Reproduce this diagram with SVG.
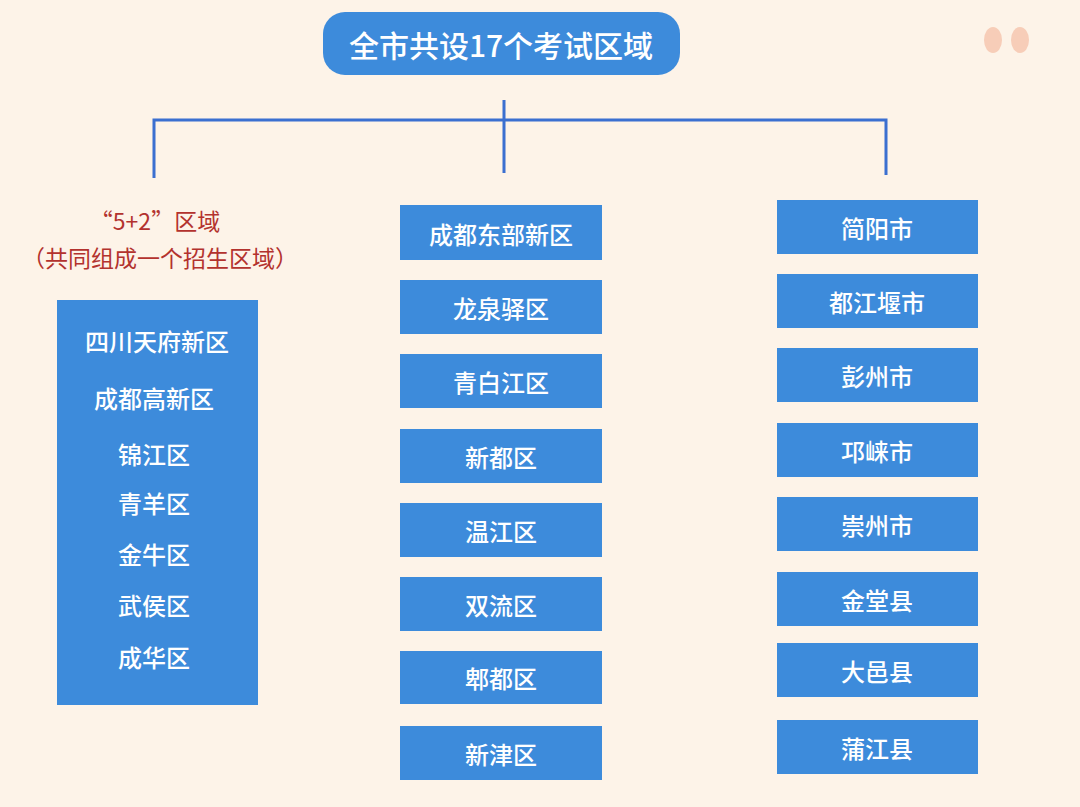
<svg xmlns="http://www.w3.org/2000/svg" width="1080" height="807" viewBox="0 0 1080 807">
<style>
.b{fill:#3d8bdb}
.t{fill:#fff;font-family:"Noto Sans CJK SC",sans-serif;font-size:24px;font-weight:500;text-anchor:middle;dominant-baseline:central}
.r{fill:#b3322e;font-family:"Noto Sans CJK SC",sans-serif;font-size:23px;text-anchor:middle;dominant-baseline:central}
.c{stroke:#3b6fd0;stroke-width:3;fill:none}
</style>
<rect width="1080" height="807" fill="#fdf3e8"/>
<ellipse cx="993" cy="40" rx="9" ry="13" fill="#f7cdb8"/>
<ellipse cx="1020" cy="40" rx="9" ry="13" fill="#f7cdb8"/>
<g id="title"><rect x="323" y="12" width="357" height="63" rx="22" class="b"/><text x="501" y="44" class="t" style="font-size:30px">全市共设17个考试区域</text></g>
<g id="connectors">
<path class="c" d="M504 100V173M154 178V120H886V175"/>
</g>
<g id="label"><text x="155" y="220" class="r">“5+2”区域</text><text x="160" y="257" class="r">（共同组成一个招生区域）</text></g>
<g id="left"><rect x="57" y="300" width="201" height="405" class="b"/>
<text x="157" y="340" class="t">四川天府新区</text><text x="154" y="397" class="t">成都高新区</text><text x="154" y="453" class="t">锦江区</text><text x="154" y="502" class="t">青羊区</text><text x="154" y="553" class="t">金牛区</text><text x="154" y="604" class="t">武侯区</text><text x="154" y="656" class="t">成华区</text></g>
<g id="m1"><rect x="400" y="205" width="202" height="55" class="b"/><text x="501" y="233" class="t">成都东部新区</text></g>
<g id="m2"><rect x="400" y="280" width="202" height="54" class="b"/><text x="501" y="307" class="t">龙泉驿区</text></g>
<g id="m3"><rect x="400" y="354" width="202" height="54" class="b"/><text x="501" y="381" class="t">青白江区</text></g>
<g id="m4"><rect x="400" y="429" width="202" height="54" class="b"/><text x="501" y="456" class="t">新都区</text></g>
<g id="m5"><rect x="400" y="503" width="202" height="54" class="b"/><text x="501" y="530" class="t">温江区</text></g>
<g id="m6"><rect x="400" y="577" width="202" height="54" class="b"/><text x="501" y="604" class="t">双流区</text></g>
<g id="m7"><rect x="400" y="651" width="202" height="53" class="b"/><text x="501" y="677" class="t">郫都区</text></g>
<g id="m8"><rect x="400" y="726" width="202" height="54" class="b"/><text x="501" y="753" class="t">新津区</text></g>
<g id="r1"><rect x="777" y="200" width="201" height="54" class="b"/><text x="877" y="227" class="t">简阳市</text></g>
<g id="r2"><rect x="777" y="274" width="201" height="54" class="b"/><text x="877" y="301" class="t">都江堰市</text></g>
<g id="r3"><rect x="777" y="348" width="201" height="54" class="b"/><text x="877" y="375" class="t">彭州市</text></g>
<g id="r4"><rect x="777" y="423" width="201" height="54" class="b"/><text x="877" y="450" class="t">邛崃市</text></g>
<g id="r5"><rect x="777" y="497" width="201" height="54" class="b"/><text x="877" y="524" class="t">崇州市</text></g>
<g id="r6"><rect x="777" y="572" width="201" height="54" class="b"/><text x="877" y="599" class="t">金堂县</text></g>
<g id="r7"><rect x="777" y="643" width="201" height="54" class="b"/><text x="877" y="670" class="t">大邑县</text></g>
<g id="r8"><rect x="777" y="720" width="201" height="54" class="b"/><text x="877" y="747" class="t">蒲江县</text></g>
</svg>
